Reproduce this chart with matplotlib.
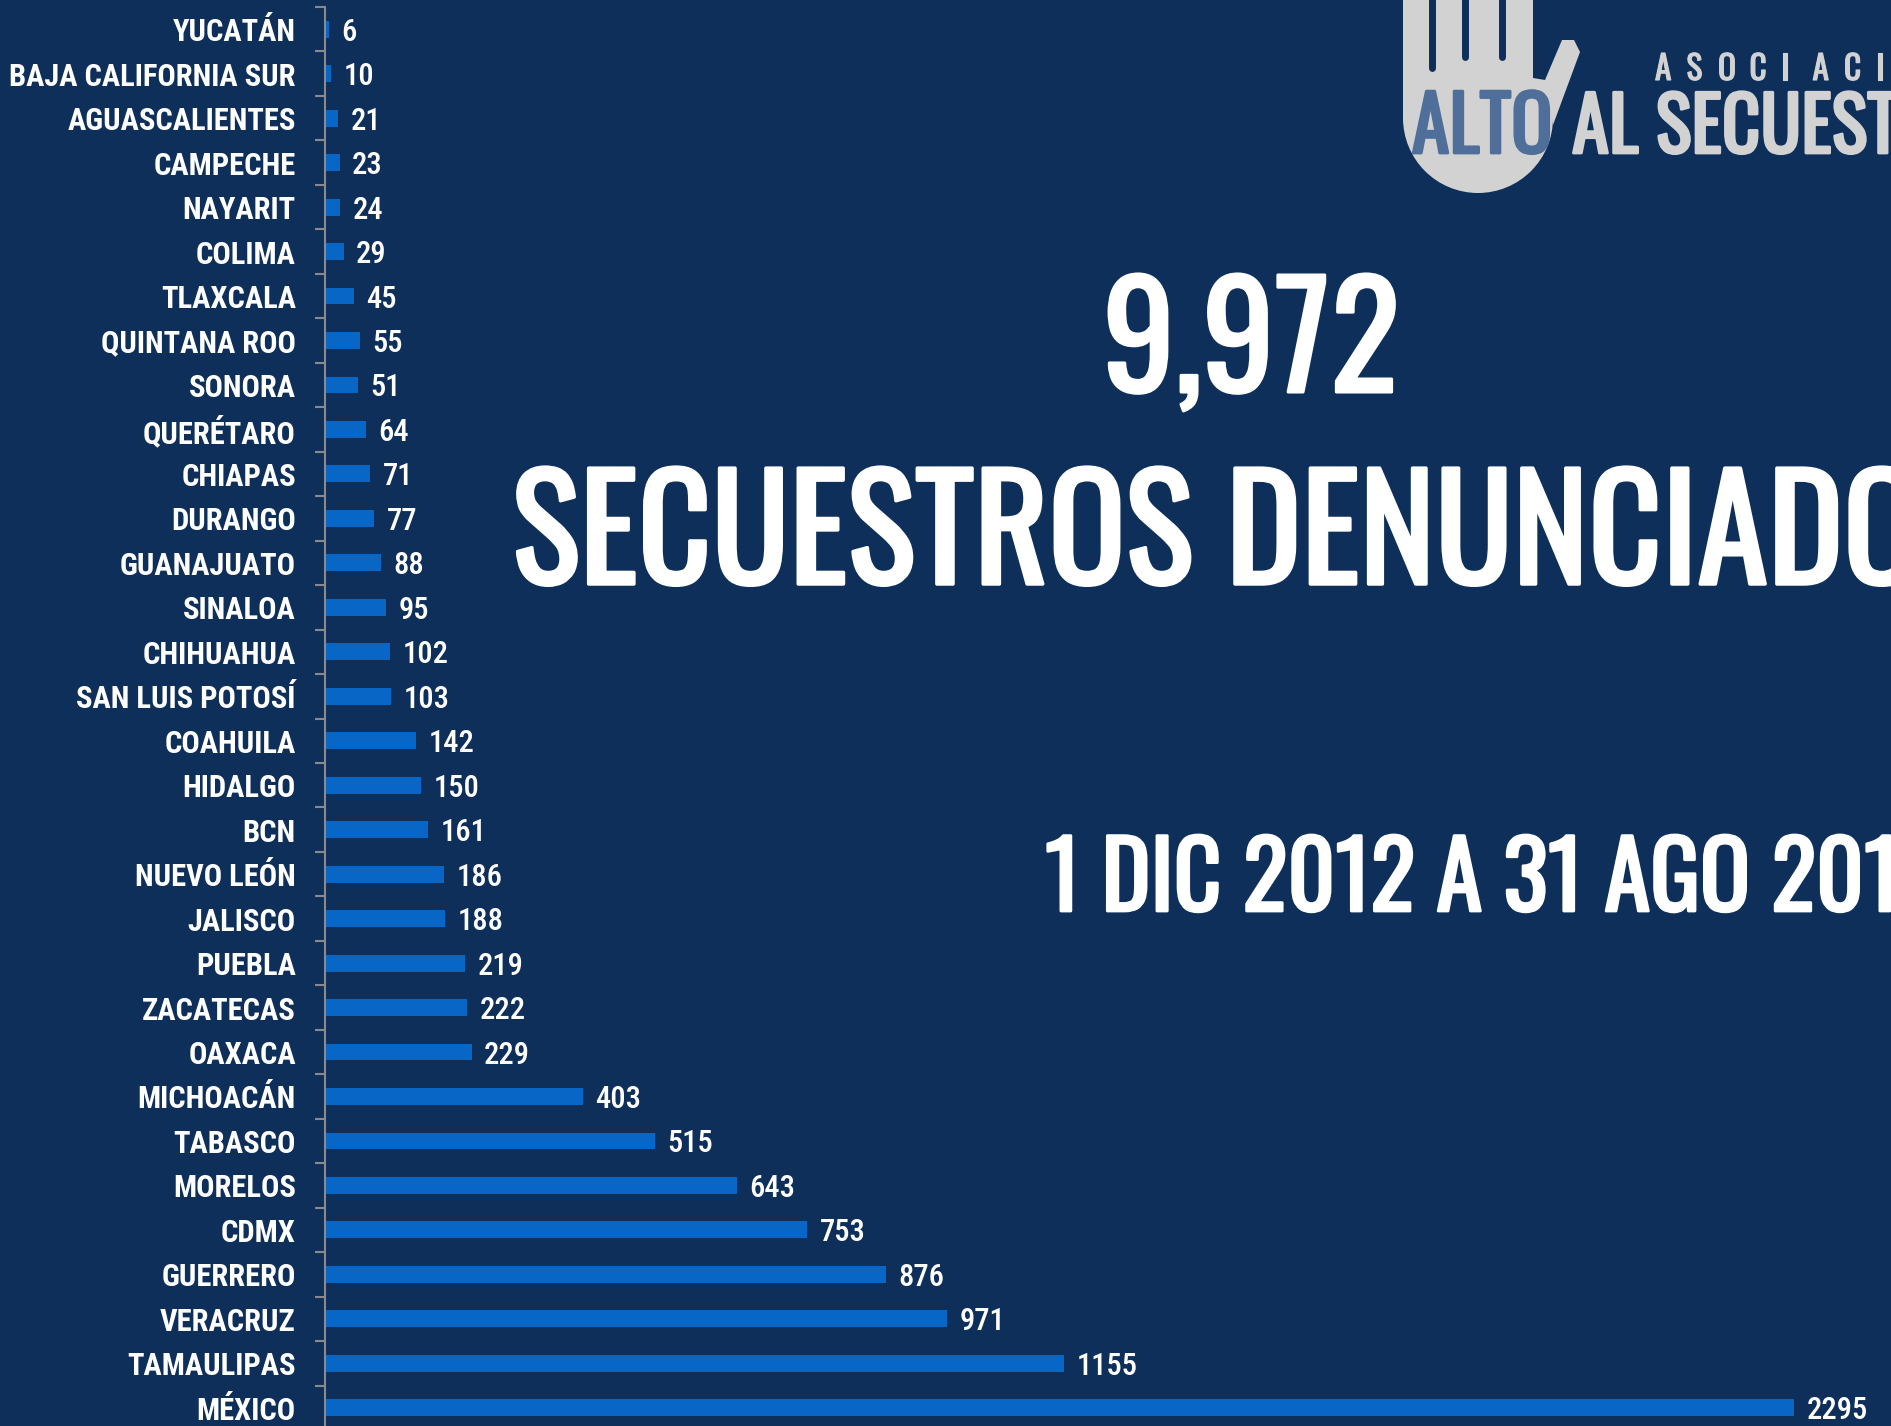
import matplotlib
matplotlib.use("Agg")
import matplotlib.pyplot as plt
import matplotlib.font_manager as fm
import matplotlib.patheffects as pe
from matplotlib.patches import Polygon, Wedge
import numpy as np

# datos
estados = ["YUCATÁN", "BAJA CALIFORNIA SUR", "AGUASCALIENTES", "CAMPECHE", "NAYARIT",
           "COLIMA", "TLAXCALA", "QUINTANA ROO", "SONORA", "QUERÉTARO", "CHIAPAS",
           "DURANGO", "GUANAJUATO", "SINALOA", "CHIHUAHUA", "SAN LUIS POTOSÍ",
           "COAHUILA", "HIDALGO", "BCN", "NUEVO LEÓN", "JALISCO", "PUEBLA",
           "ZACATECAS", "OAXACA", "MICHOACÁN", "TABASCO", "MORELOS", "CDMX",
           "GUERRERO", "VERACRUZ", "TAMAULIPAS", "MÉXICO"]
secuestros = [6, 10, 21, 23, 24, 29, 45, 55, 51, 64, 71, 77, 88, 95, 102, 103,
              142, 150, 161, 186, 188, 219, 222, 229, 403, 515, 643, 753, 876,
              971, 1155, 2295]
total_txt = "9,972"
titulo = "SECUESTROS DENUNCIADOS"
periodo = "1 DIC 2012 A 31 AGO 2017"
asociacion = list("ASOCIACIÓN")

BG = "#0E2F5A"
BAR = "#0866C6"
GRIS = "#D2D2D2"
EJE = "#8A8A8A"

# fuentes condensadas
nombres = {f.name for f in fm.fontManager.ttflist}
def elegir(cands):
    for c in cands:
        if c in nombres:
            return [c, "DejaVu Sans"]
    return ["DejaVu Sans"]

f_titulo = elegir(["Oswald", "Roboto Condensed", "Liberation Sans Narrow"])
f_etiq = elegir(["Roboto Condensed", "Oswald", "Liberation Sans Narrow"])
plt.rcParams["font.family"] = f_etiq

def grueso(lw, col):
    # engrosa el trazo sin cambiar el avance de las letras
    return [pe.withStroke(linewidth=lw, foreground=col)]

W, H = 1891, 1426
fig = plt.figure(figsize=(W / 100, H / 100), dpi=100, facecolor=BG)

ax = fig.add_axes([325 / W, -4 / H, (W - 325) / W, 1 - 3 / H])
ax.set_facecolor(BG)
y = np.arange(len(estados))
ax.barh(y, secuestros, height=0.38, color=BAR, zorder=2)
ax.set_ylim(len(estados) - 0.5, -0.5)
ax.set_xlim(0, 2446)
for v, yy in zip(secuestros, y):
    ax.annotate(str(v), (v, yy), xytext=(9, 0), textcoords="offset points",
                va="center_baseline", ha="left", color="white", fontsize=22,
                fontweight=500)
ax.set_yticks(y)
ax.set_yticklabels(estados, fontsize=22, color="white", fontweight="bold")
ax.set_yticks(np.arange(len(estados) + 1) - 0.5, minor=True)
ax.tick_params(axis="y", which="major", length=0, pad=21)
ax.tick_params(axis="y", which="minor", length=7, width=1.5, color=EJE)
ax.set_xticks([])
for s in ["top", "right", "bottom"]:
    ax.spines[s].set_visible(False)
ax.spines["left"].set_color(EJE)
ax.spines["left"].set_linewidth(1.5)

# capa en pixeles para titulos y logo
ov = fig.add_axes([0, 0, 1, 1], facecolor="none")
ov.set_xlim(0, W)
ov.set_ylim(H, 0)
ov.axis("off")

ov.text(1251, 392, total_txt, ha="center", va="baseline", color="white",
        fontsize=104, family=f_titulo, path_effects=grueso(2.2, "white"))
ov.text(512, 584, titulo, ha="left", va="baseline", color="white",
        fontsize=103, family=f_titulo, path_effects=grueso(2.5, "white"))
ov.text(1045, 911, periodo, ha="left", va="baseline", color="white",
        fontsize=67, family=f_titulo, path_effects=grueso(2, "white"))

# logo (mano)
palma = Polygon([(1403, -5), (1403, 118), (1553, 118), (1553, 125), (1580, 52),
                 (1574, 40), (1562, 40), (1545, 80), (1533, 78), (1533, -5)],
                closed=True, color=GRIS, lw=0, zorder=3)
ov.add_patch(palma)
ov.add_patch(Wedge((1478, 118), 75, 0, 180, color=GRIS, lw=0, zorder=3))
for gx, gy in [(1432, 68), (1465, 57), (1502, 57)]:
    ov.plot([gx, gx], [-5, gy], color=BG, lw=5, solid_capstyle="round", zorder=4)
ov.text(1482, 153, "ALTO", ha="center", va="baseline", color="#4F6E99",
        fontsize=55, family=f_titulo, zorder=5, path_effects=grueso(2, "#4F6E99"))
ov.text(1572, 153, "AL SECUESTRO", ha="left", va="baseline", color=GRIS,
        fontsize=54, family=f_titulo, zorder=5, path_effects=grueso(2, GRIS))
for i, letra in enumerate(asociacion):
    ov.text(1655 + i * 31.5, 80, letra, ha="left", va="baseline", color=GRIS,
            fontsize=24, family=f_titulo, zorder=5, path_effects=grueso(0.8, GRIS))

fig.savefig("out.png", dpi=100, facecolor=BG)
